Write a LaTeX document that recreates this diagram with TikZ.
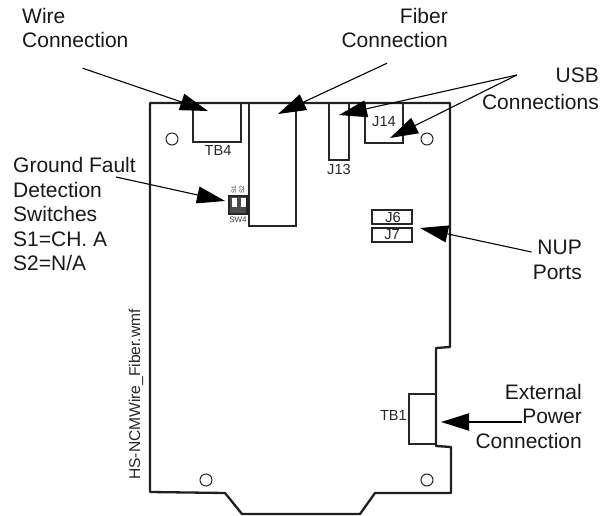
\documentclass[tikz,border=0pt]{standalone}
\usepackage{fontspec}
\setmainfont{Liberation Sans}
\usetikzlibrary{arrows.meta}
\tikzset{
  board/.style={line width=2.3pt, draw=black!88, line join=round},
  part/.style={line width=1.1pt, draw=black!85},
  hole/.style={line width=1pt, draw=black!85},
  callout/.style={line width=1.1pt, -{Triangle[length=28pt,width=17pt]}},
  label/.style={font=\fontsize{21}{24.4}\selectfont, inner sep=0pt, text=black!90},
  partname/.style={font=\fontsize{14.6}{16}\selectfont, inner sep=0pt, text=black!85},
  tinyname/.style={font=\fontsize{8}{9}\selectfont, inner sep=0pt, text=black!75}
}
\begin{document}
\begin{tikzpicture}[x=1pt, y=-1pt]
      \useasboundingbox (0,0) rectangle (611,516);

      % outline
      \draw [board](150,103) -- (450,103) -- (450,347) -- (436,348) -- (436,446) -- (451,447)
        -- (451,493) -- (375,493) -- (360,514) -- (242,514) -- (225,493) -- (150,492) -- cycle;

      % holes
      \draw [hole](172,139) circle (6);
      \draw [hole](427,139) circle (6);
      \draw [hole](206,480) circle (6);
      \draw [hole](427,480) circle (6);

      % connectors on the board
      \draw [part](193,103) -- (193,142) -- (241,142) -- (241,103);
      \draw [part](249,103) -- (249,226) -- (296,226) -- (296,103);
      \draw [part](329,103) -- (329,160) -- (349,160) -- (349,103);
      \draw [part](365,103) -- (365,143) -- (403,143) -- (403,103);
      \draw [part](372,210) rectangle (412,224);
      \draw [part](372,228) rectangle (412,242);
      \draw [part](436,394) -- (409,394) -- (409,444) -- (436,444);

      % switch
      \draw [part, fill=black!70](229,196) rectangle (247,214);
      \fill [white](232,198) rectangle (237,212);
      \fill [white](241,198) rectangle (246,212);
      \fill [black!70](232,207) rectangle (237,212);
      \fill [black!70](241,207) rectangle (246,212);

      % part names
      \node [partname] (tbfour) at (218,150) {TB4};
      \node [partname] (jthirteen) at (339,169) {J13};
      \node [partname] (jfourteen) at (384,122) {J14};
      \node [partname] (jsix) at (393,217) {J6};
      \node [partname] (jseven) at (392,235) {J7};
      \node [partname, anchor=east] (tbone) at (407,415) {TB1};
      \node [tinyname] (swfour) at (238,220) {SW4};
      \node [tinyname, font=\fontsize{6.5}{7}\selectfont, rotate=90] (sone) at (234,190) {S1};
      \node [tinyname, font=\fontsize{6.5}{7}\selectfont, rotate=90] (stwo) at (242,190) {S2};

      % labels
      \node [label, align=left, anchor=north west] (wire) at (22,8) {Wire\\Connection};
      \node [label, align=right, anchor=north east] (fiber) at (448,8) {Fiber\\Connection};
      \node [label, font=\fontsize{21}{26.6}\selectfont, align=right, anchor=north east] (usb) at (599,68) {USB\\Connections};
      \node [label, align=left, anchor=north west] (ground) at (13,157.5) {Ground Fault\\Detection\\Switches\\S1=CH. A\\S2=N/A};
      \node [label, align=right, anchor=north east] (nup) at (582,240) {NUP\\Ports};
      \node [label, align=right, anchor=north east] (power) at (582,384) {External\\Power\\Connection};
      \node [partname, font=\fontsize{15.6}{17}\selectfont, rotate=90, anchor=west] (file) at (136,480) {HS-NCMWire\_Fiber.wmf};

      % arrows
      \coordinate (wiretip) at (208,111);
      \coordinate (fibertip) at (278,114);
      \coordinate (usbtipa) at (339,115);
      \coordinate (usbtipb) at (390,138);
      \coordinate (groundtip) at (225,201);
      \coordinate (nuptip) at (420,228);
      \coordinate (powertip) at (441,422);
      \draw [callout]([shift={(-46pt,-20pt)}]wire.south east) -- (wiretip);
      \draw [callout]([shift={(-61pt,-15pt)}]fiber.south east) -- (fibertip);
      \draw [callout]([shift={(35pt,-7pt)}]usb.north west) -- (usbtipa);
      \draw [callout]([shift={(35pt,-7pt)}]usb.north west) -- (usbtipb);
      \draw [callout]([shift={(-20pt,-19.5pt)}]ground.north east) -- (groundtip);
      \draw [callout]([shift={(-1pt,-12pt)}]nup.north west) -- (nuptip);
      \draw [callout, line width=2pt]([shift={(47pt,-38pt)}]power.north west) -- (powertip);
    \end{tikzpicture}
\end{document}
